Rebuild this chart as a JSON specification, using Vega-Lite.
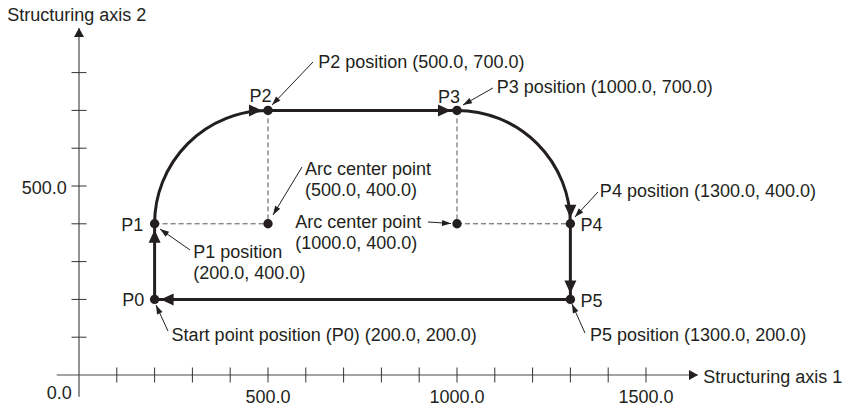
{
  "$schema": "https://vega.github.io/schema/vega-lite/v6.json",
  "width": 845,
  "height": 407,
  "padding": 0,
  "autosize": {"type": "none"},
  "background": "white",
  "config": {
    "view": {"stroke": null},
    "text": {"font": "Liberation Sans", "fontSize": 18, "color": "#231f20"}
  },
  "datasets": {
    "axisLines": [
      {"x": -59, "y": 0, "x2": 1637, "y2": 0},
      {"x": 0, "y": -57.4, "x2": 0, "y2": 918}
    ],
    "xTicks": [
      {"x": 100, "y": 0}, {"x": 200, "y": 0}, {"x": 300, "y": 0}, {"x": 400, "y": 0}, {"x": 500, "y": 0},
      {"x": 600, "y": 0}, {"x": 700, "y": 0}, {"x": 800, "y": 0}, {"x": 900, "y": 0}, {"x": 1000, "y": 0},
      {"x": 1100, "y": 0}, {"x": 1200, "y": 0}, {"x": 1300, "y": 0}, {"x": 1400, "y": 0}, {"x": 1500, "y": 0}
    ],
    "yTicks": [
      {"x": 0, "y": 100}, {"x": 0, "y": 200}, {"x": 0, "y": 300}, {"x": 0, "y": 400},
      {"x": 0, "y": 500}, {"x": 0, "y": 600}, {"x": 0, "y": 700}, {"x": 0, "y": 800}
    ],
    "axisArrows": [
      {"x": 0, "y": 918, "heading": 0},
      {"x": 1637.6, "y": 0, "heading": 90}
    ],
    "dashed": [
      {"x": 200, "y": 400, "x2": 500, "y2": 400},
      {"x": 500, "y": 700, "x2": 500, "y2": 400},
      {"x": 1000, "y": 700, "x2": 1000, "y2": 400},
      {"x": 1000, "y": 400, "x2": 1300, "y2": 400}
    ],
    "segments": [
      {"x": 200, "y": 200, "x2": 200, "y2": 400},
      {"x": 500, "y": 700, "x2": 1000, "y2": 700},
      {"x": 1300, "y": 400, "x2": 1300, "y2": 200},
      {"x": 1300, "y": 200, "x2": 200, "y2": 200}
    ],
    "arcs": [
      {"x": 500, "y": 400, "t0": -1.5708, "t1": 0},
      {"x": 1000, "y": 400, "t0": 0, "t1": 1.5708}
    ],
    "points": [
      {"name": "P0", "x": 200, "y": 200},
      {"name": "P1", "x": 200, "y": 400},
      {"name": "P2", "x": 500, "y": 700},
      {"name": "P3", "x": 1000, "y": 700},
      {"name": "P4", "x": 1300, "y": 400},
      {"name": "P5", "x": 1300, "y": 200},
      {"name": "C1", "x": 500, "y": 400},
      {"name": "C2", "x": 1000, "y": 400}
    ],
    "pathArrows": [
      {"x": 200, "y": 400, "heading": 0},
      {"x": 500, "y": 700, "heading": 90},
      {"x": 1000, "y": 700, "heading": 90},
      {"x": 1300, "y": 400, "heading": 180},
      {"x": 1300, "y": 200, "heading": 180},
      {"x": 200, "y": 200, "heading": 270}
    ],
    "leaders": [
      {"x": 619, "y": 828, "x2": 510.6, "y2": 714.3, "heading": 223.6},
      {"x": 1095.2, "y": 759.3, "x2": 1015.9, "y2": 714.3, "heading": 240.5},
      {"x": 590, "y": 550.3, "x2": 513.2, "y2": 423.3, "heading": 211.1},
      {"x": 923.3, "y": 404.8, "x2": 984.1, "y2": 400.8, "heading": 93.7},
      {"x": 1373, "y": 484, "x2": 1312, "y2": 418, "heading": 222.6},
      {"x": 293.7, "y": 330.7, "x2": 214.3, "y2": 386.2, "heading": 305},
      {"x": 235.4, "y": 116.4, "x2": 203.7, "y2": 185.2, "heading": 335.2},
      {"x": 1338.6, "y": 111.1, "x2": 1304.2, "y2": 187.8, "heading": 335.9}
    ],
    "leftText": [
      {"label": "Structuring axis 2", "x": -189.7, "y": 937.3},
      {"label": "Structuring axis 1", "x": 1651.6, "y": -22},
      {"label": "P2 position (500.0, 700.0)", "x": 633, "y": 812},
      {"label": "P3 position (1000.0, 700.0)", "x": 1105, "y": 746},
      {"label": "Arc center point", "x": 598, "y": 530},
      {"label": "(500.0, 400.0)", "x": 598, "y": 473.5},
      {"label": "Arc center point", "x": 572, "y": 389},
      {"label": "(1000.0, 400.0)", "x": 572, "y": 333},
      {"label": "P4 position (1300.0, 400.0)", "x": 1378, "y": 471},
      {"label": "P1 position", "x": 302.4, "y": 309.5},
      {"label": "(200.0, 400.0)", "x": 302.4, "y": 254},
      {"label": "Start point position (P0) (200.0, 200.0)", "x": 245, "y": 90},
      {"label": "P5 position (1300.0, 200.0)", "x": 1352, "y": 90},
      {"label": "P4", "x": 1327, "y": 381},
      {"label": "P5", "x": 1327, "y": 180}
    ],
    "rightText": [
      {"label": "0.0", "x": -19.3, "y": -64.3},
      {"label": "500.0", "x": -32.5, "y": 478.8},
      {"label": "P0", "x": 172.8, "y": 182.5},
      {"label": "P1", "x": 170, "y": 381.7}
    ],
    "centerText": [
      {"label": "500.0", "x": 500, "y": -75},
      {"label": "1000.0", "x": 1000, "y": -75},
      {"label": "1500.0", "x": 1500, "y": -75},
      {"label": "P2", "x": 480, "y": 723},
      {"label": "P3", "x": 979, "y": 718.8}
    ]
  },
  "encoding": {
    "x": {"field": "x", "type": "quantitative", "scale": {"domain": [-209, 2026.5], "nice": false, "zero": false}, "axis": null},
    "y": {"field": "y", "type": "quantitative", "scale": {"domain": [-84.66, 992.06], "nice": false, "zero": false}, "axis": null}
  },
  "layer": [
    {
      "data": {"name": "dashed"},
      "mark": {"type": "rule", "color": "#555555", "strokeWidth": 1, "strokeDash": [5, 3]},
      "encoding": {"x2": {"field": "x2"}, "y2": {"field": "y2"}}
    },
    {
      "data": {"name": "axisLines"},
      "mark": {"type": "rule", "color": "#4a4a4a", "strokeWidth": 1.2},
      "encoding": {"x2": {"field": "x2"}, "y2": {"field": "y2"}}
    },
    {
      "data": {"name": "xTicks"},
      "mark": {"type": "tick", "orient": "vertical", "size": 15, "thickness": 1, "color": "#333333", "opacity": 1}
    },
    {
      "data": {"name": "yTicks"},
      "mark": {"type": "tick", "orient": "horizontal", "size": 15, "thickness": 1, "color": "#333333", "opacity": 1}
    },
    {
      "data": {"name": "axisArrows"},
      "mark": {"type": "point", "shape": "M0,0L-1,1.8L1,1.8Z", "filled": true, "size": 100, "color": "#231f20", "opacity": 1},
      "encoding": {"angle": {"field": "heading", "type": "quantitative", "scale": null}}
    },
    {
      "data": {"name": "segments"},
      "mark": {"type": "rule", "color": "#231f20", "strokeWidth": 3},
      "encoding": {"x2": {"field": "x2"}, "y2": {"field": "y2"}}
    },
    {
      "data": {"name": "arcs"},
      "mark": {
        "type": "arc",
        "filled": false,
        "stroke": "#231f20",
        "strokeWidth": 3,
        "radius": {"expr": "scale('x', 300) - scale('x', 0)"},
        "radius2": {"expr": "scale('x', 300) - scale('x', 0)"}
      },
      "encoding": {
        "theta": {"field": "t0", "type": "quantitative", "scale": null, "stack": null},
        "theta2": {"field": "t1"}
      }
    },
    {
      "data": {"name": "leaders"},
      "mark": {"type": "rule", "color": "#231f20", "strokeWidth": 1},
      "encoding": {"x2": {"field": "x2"}, "y2": {"field": "y2"}}
    },
    {
      "data": {"name": "leaders"},
      "mark": {"type": "point", "shape": "M0,0L-0.6,1.8L0.6,1.8Z", "filled": true, "size": 100, "color": "#231f20", "opacity": 1},
      "encoding": {
        "x": {"field": "x2", "type": "quantitative"},
        "y": {"field": "y2", "type": "quantitative"},
        "angle": {"field": "heading", "type": "quantitative", "scale": null}
      }
    },
    {
      "data": {"name": "points"},
      "mark": {"type": "point", "shape": "circle", "filled": true, "size": 88, "color": "#231f20", "opacity": 1}
    },
    {
      "data": {"name": "pathArrows"},
      "mark": {"type": "point", "shape": "M0,1L-1,3.17L1,3.17Z", "filled": true, "size": 144, "color": "#231f20", "opacity": 1},
      "encoding": {"angle": {"field": "heading", "type": "quantitative", "scale": null}}
    },
    {
      "data": {"name": "leftText"},
      "mark": {"type": "text", "align": "left", "baseline": "alphabetic"},
      "encoding": {"text": {"field": "label"}}
    },
    {
      "data": {"name": "rightText"},
      "mark": {"type": "text", "align": "right", "baseline": "alphabetic"},
      "encoding": {"text": {"field": "label"}}
    },
    {
      "data": {"name": "centerText"},
      "mark": {"type": "text", "align": "center", "baseline": "alphabetic"},
      "encoding": {"text": {"field": "label"}}
    }
  ]
}
